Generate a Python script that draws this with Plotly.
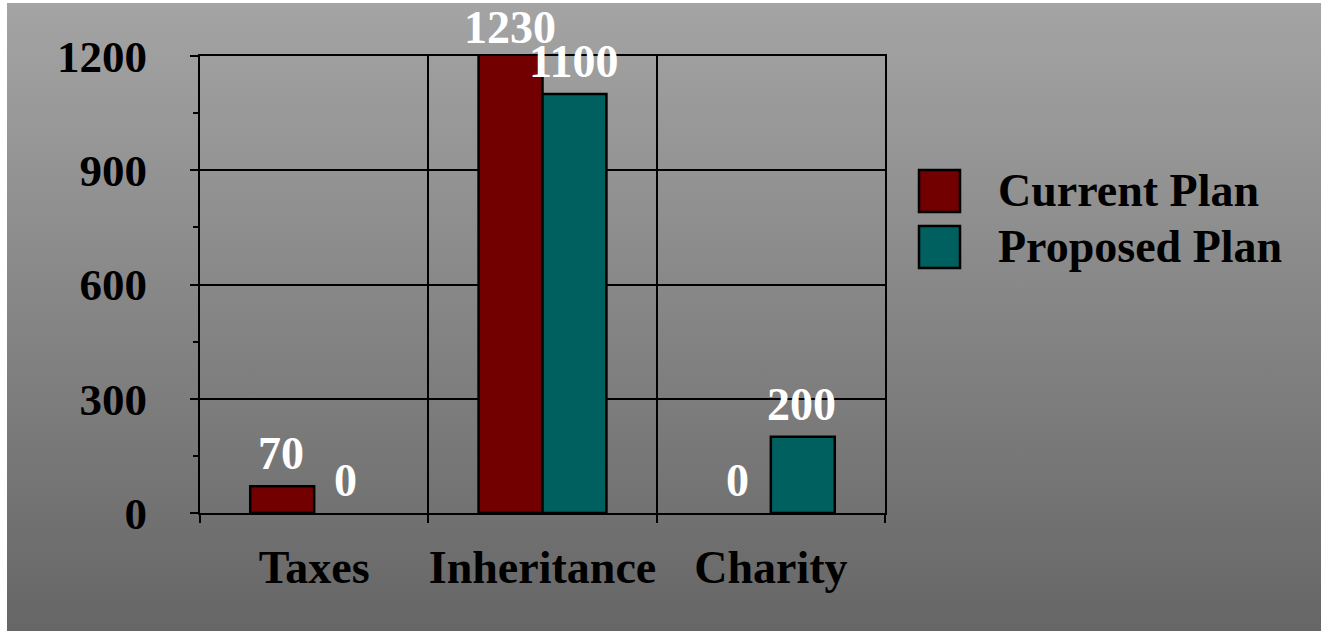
import base64
import plotly.graph_objects as go

categories = ["Taxes", "Inheritance", "Charity"]
current_plan = [70, 1230, 0]
proposed_plan = [0, 1100, 200]
series_names = ["Current Plan", "Proposed Plan"]
y_ticks = [0, 300, 600, 900, 1200]

W, H = 1321, 631
FONT = "Liberation Serif"
RED = "#720000"
TEAL = "#005F5F"

def px(x):
    return x / W

def py(y):
    return (H - y) / H

fig = go.Figure()
for name, vals, col in [(series_names[0], current_plan, RED), (series_names[1], proposed_plan, TEAL)]:
    fig.add_trace(go.Bar(
        x=categories, y=[v if v != 0 else None for v in vals], name=name,
        marker=dict(color=col, line=dict(color="black", width=2.5)),
        showlegend=False,
    ))

annotations = []
for vals, shift in [(current_plan, -33), (proposed_plan, 31)]:
    for c, v in zip(categories, vals):
        annotations.append(dict(
            x=c, y=min(v, 1190), xref="x", yref="y", text=f"<b>{v}</b>",
            showarrow=False, xshift=shift, yshift=5, yanchor="bottom",
            font=dict(family=FONT, size=46, color="white"),
        ))

# gradient background as an SVG image
svg = ('<svg xmlns="http://www.w3.org/2000/svg" width="100" height="100" preserveAspectRatio="none">'
       '<defs><linearGradient id="g" x1="0" y1="0" x2="0" y2="1">'
       '<stop offset="0" stop-color="#a4a4a4"/><stop offset="1" stop-color="#666666"/>'
       '</linearGradient></defs><rect width="100" height="100" fill="url(#g)"/></svg>')
src = "data:image/svg+xml;base64," + base64.b64encode(svg.encode()).decode()
images = [dict(source=src, xref="paper", yref="paper", x=px(7), y=py(3),
               sizex=1 - px(7), sizey=py(3), xanchor="left", yanchor="top",
               sizing="stretch", layer="below")]

shapes = []
leg_items = [(series_names[0], RED, 170, 212), (series_names[1], TEAL, 226, 268)]
for name, col, ya, yb in leg_items:
    shapes.append(dict(type="rect", xref="paper", yref="paper",
                       x0=px(919), x1=px(960), y0=py(yb), y1=py(ya),
                       fillcolor=col, line=dict(color="black", width=2.5)))
    annotations.append(dict(x=px(996), y=py((ya + yb) / 2), xref="paper", yref="paper",
                            text=f"<b>{name}</b>", showarrow=False, xanchor="left",
                            yanchor="middle",
                            font=dict(family=FONT, size=46, color="black")))

fig.update_layout(
    width=W, height=H,
    margin=dict(l=0, r=0, t=0, b=0, autoexpand=False),
    paper_bgcolor="white",
    plot_bgcolor="rgba(0,0,0,0)",
    barmode="group", bargap=0.44, bargroupgap=0.0,
    shapes=shapes, annotations=annotations, images=images,
    showlegend=False,
    font=dict(family=FONT, color="black"),
    xaxis=dict(
        domain=[px(200), px(885)], type="category", automargin=False,
        tickson="boundaries", showgrid=True, gridcolor="black", gridwidth=2,
        ticks="outside", ticklen=8, tickwidth=2, tickcolor="black",
        showline=True, linecolor="black", linewidth=2, mirror=True,
        tickfont=dict(family=FONT, size=46, color="black"),
        tickangle=0, ticklabelstandoff=13,
        tickprefix="<b>", ticksuffix="</b>",
    ),
    yaxis=dict(
        domain=[py(513), py(56)], range=[0, 1200], automargin=False,
        tickvals=y_ticks, ticktext=[f"<b>{v}</b>" for v in y_ticks],
        showgrid=True, gridcolor="black", gridwidth=2,
        ticks="outside", ticklen=8, tickwidth=2, tickcolor="black",
        minor=dict(dtick=150, ticks="outside", ticklen=5, tickwidth=2, tickcolor="black", showgrid=False),
        showline=True, linecolor="black", linewidth=2, mirror=True,
        zeroline=False,
        tickfont=dict(family=FONT, size=45, color="black"),
        ticklabelstandoff=34,
    ),
)

fig.write_html("out.html", config={"displayModeBar": False},
               post_script="document.body.style.margin='0';")
